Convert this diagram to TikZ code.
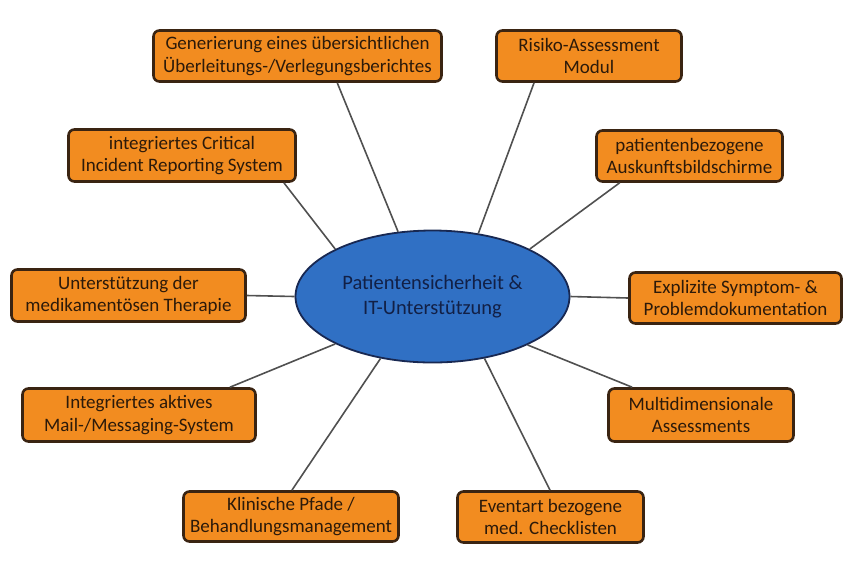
\documentclass[tikz,border=0pt]{standalone}
\usepackage{fontspec}
\setmainfont{Carlito}
\usepackage{tikz}
\usetikzlibrary{shapes.geometric}

\definecolor{boxfill}{RGB}{242,140,32}
\definecolor{boxline}{RGB}{58,36,18}
\definecolor{boxtext}{RGB}{44,26,10}
\definecolor{hubfill}{RGB}{48,112,196}
\definecolor{hubline}{RGB}{24,40,82}
\definecolor{hubtext}{RGB}{18,32,70}
\definecolor{edgegray}{RGB}{80,80,80}

\begin{document}
\begin{tikzpicture}[x=1pt, y=-1pt,
        topic/.style={draw=boxline, fill=boxfill, line width=2.6pt, rounded corners=6pt,
            inner sep=0pt, align=center, text=boxtext,
            font=\fontsize{19}{22.5}\selectfont},
        hub/.style={draw=hubline, fill=hubfill, ellipse, line width=1.8pt, inner sep=0pt,
            align=center, text=hubtext, font=\fontsize{20.5}{24.5}\selectfont},
        link/.style={draw=edgegray, line width=1.6pt}]
        \useasboundingbox (0,0) rectangle (850,566);

        % Edge
        \node[hub, minimum width=274pt, minimum height=132pt] (hub) at (432.5,296.5) {Patientensicherheit \&\\IT-Unterstützung};

        \node[topic, minimum width=288pt, minimum height=51pt] (report) at (297.5,56) {Generierung eines übersichtlichen\\Überleitungs-/Verlegungsberichtes};
        \node[topic, minimum width=185pt, minimum height=51pt] (risk) at (589,56) {Risiko-Assessment\\Modul};
        \node[topic, minimum width=227pt, minimum height=52pt] (cirs) at (182,155.5) {integriertes Critical\\Incident Reporting System};
        \node[topic, minimum width=186pt, minimum height=51pt] (screen) at (689.5,156) {patientenbezogene\\Auskunftsbildschirme};
        \node[topic, minimum width=234pt, minimum height=52pt] (drug) at (128.5,295.5) {Unterstützung der\\medikamentösen Therapie};
        \node[topic, minimum width=212pt, minimum height=51pt] (symptom) at (735.5,298) {Explizite Symptom- \&\\Problemdokumentation};
        \node[topic, minimum width=233pt, minimum height=53pt] (mail) at (139,415) {Integriertes aktives\\Mail-/Messaging-System};
        \node[topic, minimum width=185pt, minimum height=53pt] (multi) at (701,415) {Multidimensionale\\Assessments};
        \node[topic, minimum width=215pt, minimum height=50pt] (path) at (291,516.5) {Klinische Pfade /\\Behandlungsmanagement};
        \node[topic, minimum width=186pt, minimum height=51pt] (check) at (550.5,517) {Eventart bezogene\\med. Checklisten};

        % Edge
        \draw[link] (report.326) -- (hub.118);
        \draw[link] (risk.206) -- (hub.54);
        \draw[link] (cirs.345) -- (hub.154);
        \draw[link] (screen.201) -- (hub.26);
        \draw[link] (drug.east) -- (hub.west);
        \draw[link] (symptom.west) -- (hub.east);
        \draw[link] (mail.17) -- (hub.206);
        \draw[link] (multi.158) -- (hub.333);
        \draw[link] (path.88) -- (hub.230);
        \draw[link] (check.91) -- (hub.310);
\end{tikzpicture}
\end{document}
